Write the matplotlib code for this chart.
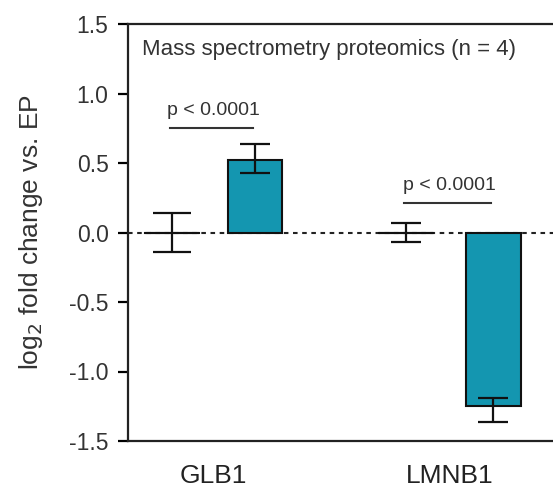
import numpy as np
import matplotlib
matplotlib.use("Agg")
import matplotlib.pyplot as plt

plt.rcParams['font.family'] = ['Liberation Sans', 'DejaVu Sans']

genes = ["GLB1", "LMNB1"]
ep_mean = [0.0, 0.0]
ep_err_lo = [0.14, 0.065]
ep_err_hi = [0.14, 0.065]
mut_mean = [0.525, -1.245]
mut_err_lo = [0.095, 0.115]
mut_err_hi = [0.115, 0.055]
pvals = ["p < 0.0001", "p < 0.0001"]
bracket_y = [0.755, 0.215]

ep_pos = np.array([0.0, 2.82])
mut_pos = np.array([1.0, 3.87])
ep_caps = [14, 11]
width = 0.66
teal = "#1496b0"
txt = "#333333"

fig = plt.figure(figsize=(5.53, 4.87), dpi=100)
ax = fig.add_axes([128 / 553, 1 - 441 / 487, 1 - 128 / 553, (441 - 24) / 487])

ax.axhline(0, color="#222222", lw=1.5, ls=(0, (2.2, 2.2)), zorder=1)

# EP (reference) bars: zero height, drawn as a solid line with error bars
ax.bar(ep_pos, ep_mean, width=width, color="white", edgecolor="#111111", lw=1.5, zorder=2)
for i, x in enumerate(ep_pos):
    ax.plot([x - width / 2, x + width / 2], [0, 0], color="#111111", lw=1.5, zorder=3)
    ax.errorbar(x, ep_mean[i], yerr=[[ep_err_lo[i]], [ep_err_hi[i]]], fmt="none",
                ecolor="#111111", elinewidth=1.6, capsize=ep_caps[i], capthick=1.6, zorder=4)

ax.bar(mut_pos, mut_mean, width=width, color=teal, edgecolor="#111111", lw=1.5, zorder=2)
ax.errorbar(mut_pos, mut_mean, yerr=[mut_err_lo, mut_err_hi], fmt="none", ecolor="#111111",
            elinewidth=1.6, capsize=10.5, capthick=1.6, zorder=4)

for i in range(2):
    x0, x1 = ep_pos[i], mut_pos[i]
    ax.plot([x0 - 0.02, x1 - 0.03], [bracket_y[i]] * 2, color="#333333", lw=1.5)
    ax.text((x0 + x1) / 2, bracket_y[i] + 0.065, pvals[i], ha="center", va="bottom",
            fontsize=14, color=txt)

ax.text(0.033, 0.965, "Mass spectrometry proteomics (n = 4)", transform=ax.transAxes,
        ha="left", va="top", fontsize=16, color=txt)

ax.set_xlim(-0.53, 4.59)
ax.set_ylim(-1.5, 1.5)
ax.set_yticks(np.arange(-1.5, 1.51, 0.5))
ax.set_yticklabels([f"{v:.1f}" for v in np.arange(-1.5, 1.51, 0.5)], fontsize=16.5, color=txt)
ax.set_xticks((ep_pos + mut_pos) / 2)
ax.set_xticklabels(genes, fontsize=19, color="#222222")
ax.tick_params(axis="x", length=0, pad=16.5)
ax.tick_params(axis="y", length=7, width=1.6, pad=7)
ax.spines["right"].set_visible(False)
for s in ["left", "top", "bottom"]:
    ax.spines[s].set_linewidth(1.6)
    ax.spines[s].set_color("#222222")

ax.set_ylabel("log$_2$ fold change vs. EP", fontsize=19, color=txt)
ax.yaxis.set_label_coords(-0.195, 0.5)

fig.savefig("out.png", dpi=100)
